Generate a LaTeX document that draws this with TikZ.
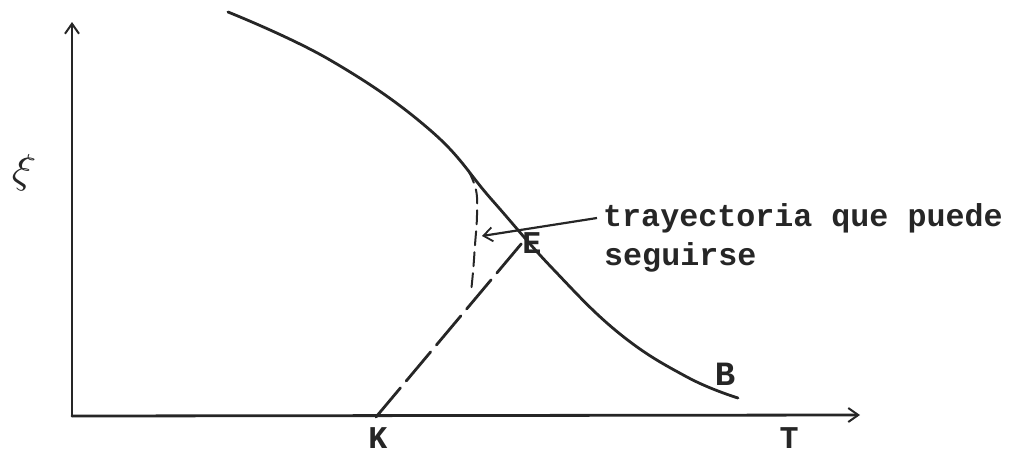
\documentclass[tikz,border=0pt]{standalone}
\usepackage{fontspec}
\newfontfamily\tw{Liberation Mono}
\usetikzlibrary{arrows.meta}
\tikzset{
  pen/.style={line width=2.8pt, line cap=round, black!85},
  axis/.style={pen, -{Straight Barb[length=10pt,width=14pt,line width=2pt]}},
  dashline/.style={pen, dash pattern=on 38pt off 9pt},
  vdash/.style={pen, line width=2pt, dash pattern=on 14pt off 7pt},
  lbl/.style={font=\tw\bfseries\fontsize{31.7}{36}\selectfont, inner sep=0pt, text=black!85},
  ptr/.style={line width=2.2pt, black!85, -{Straight Barb[length=9pt,width=14pt,line width=1.8pt]}}
}
\begin{document}
\begin{tikzpicture}[x=1pt,y=-1pt]
\useasboundingbox (0,0) rectangle (1011,455);
% axes
\coordinate (O) at (72,416);
\coordinate (Ytop) at (72,22);
\coordinate (Xend) at (860,415);
\draw[axis] (O) -- (Ytop);
\draw[axis] (O) -- (Xend);
% labels
\node[scale=4.2, rotate=-12, text=black!85] (xi) at (24,172) {$\xi$};
\node[lbl] (K) at (378,438) {K};
\node[lbl] (T) at (789,438) {T};
\node[lbl] (E) at (532,243) {E};
\node[lbl, font=\tw\bfseries\fontsize{34}{36}\selectfont] (B) at (725,374) {B};
\node[lbl, anchor=west] (t1) at (603,218) {trayectoria que puede};
\node[lbl, anchor=west] (t2) at (604,257) {seguirse};
% main curve
\draw[pen] plot[smooth, tension=0.7] coordinates {(228,12) (330,60) (430,130) (492,200) (553,269) (620,334) (687,377) (738,398)};
% dashed branch
\draw[vdash] plot[smooth, tension=0.7] coordinates {(468,170) (476,190) (477,215) (475,245) (473,272) (471,292)};
% dashed line from K toward E
\coordinate (Ktop) at (522,243);
\draw[dashline] (376,417) -- (Ktop);
% pointer
\coordinate (tip) at (482,236);
\draw[ptr] (t1.west) ++(-6,0) -- (tip);
\end{tikzpicture}
\end{document}
